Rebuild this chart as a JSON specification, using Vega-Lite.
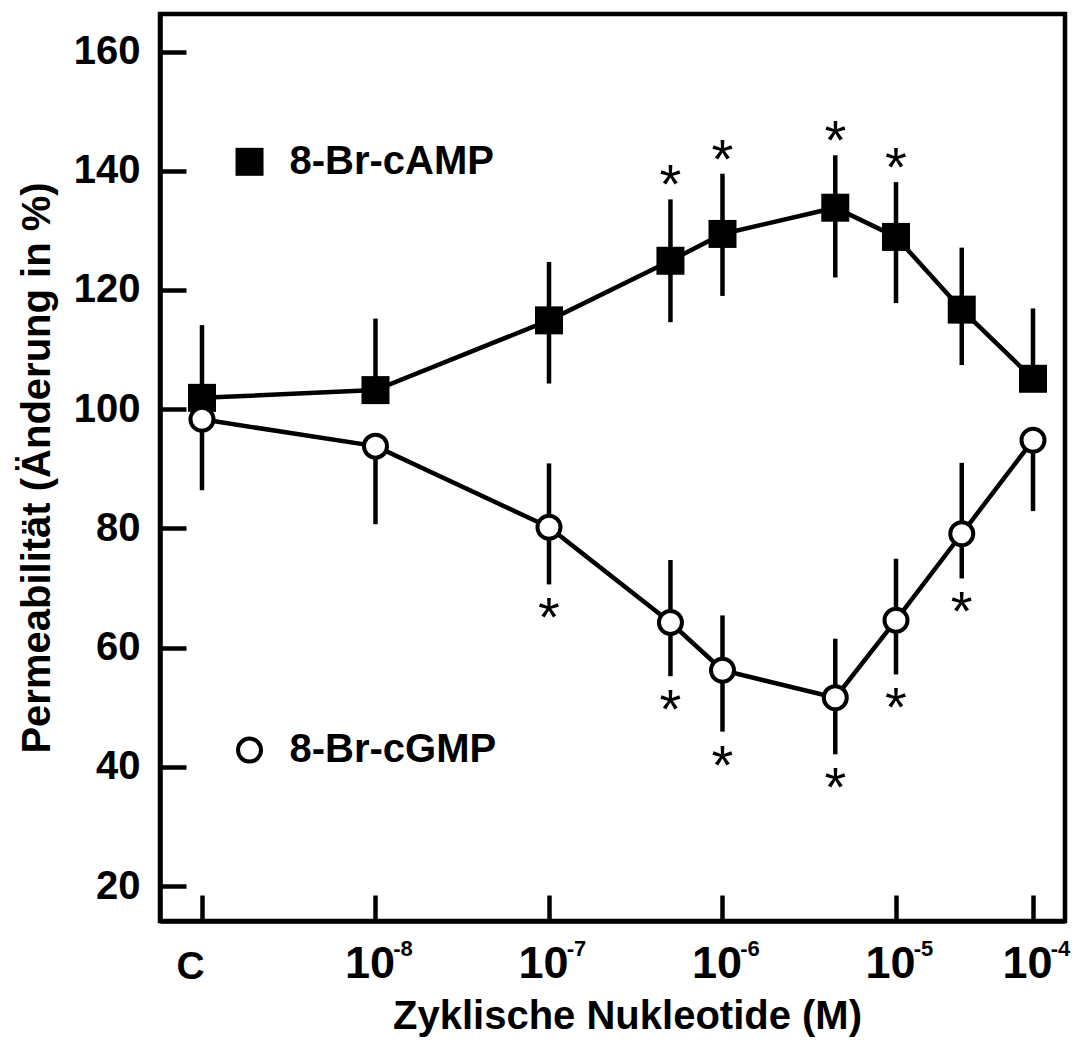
{
  "$schema": "https://vega.github.io/schema/vega-lite/v6.json",
  "width": 905,
  "height": 907,
  "autosize": {"type": "none"},
  "padding": {"left": 160, "top": 14, "right": 11, "bottom": 127},
  "background": "white",
  "config": {
    "font": "Liberation Sans",
    "view": {"stroke": "black", "strokeWidth": 4.5},
    "axis": {"labelColor": "black", "titleColor": "black", "labelFont": "Liberation Sans", "titleFont": "Liberation Sans", "grid": false}
  },
  "datasets": {
    "pts": [
      {"series": "8-Br-cAMP", "logc": -9, "value": 101.9, "lo": 101.9, "hi": 114.1, "sig": false},
      {"series": "8-Br-cAMP", "logc": -8, "value": 103.2, "lo": 103.2, "hi": 115.2, "sig": false},
      {"series": "8-Br-cAMP", "logc": -7, "value": 114.9, "lo": 104.3, "hi": 124.7, "sig": false},
      {"series": "8-Br-cAMP", "logc": -6.3, "value": 124.9, "lo": 114.6, "hi": 135.2, "sig": true},
      {"series": "8-Br-cAMP", "logc": -6, "value": 129.4, "lo": 119.0, "hi": 139.5, "sig": true},
      {"series": "8-Br-cAMP", "logc": -5.35, "value": 133.8, "lo": 122.1, "hi": 142.6, "sig": true},
      {"series": "8-Br-cAMP", "logc": -5, "value": 128.9, "lo": 117.8, "hi": 138.1, "sig": true},
      {"series": "8-Br-cAMP", "logc": -4.52, "value": 116.7, "lo": 107.4, "hi": 127.1, "sig": false},
      {"series": "8-Br-cAMP", "logc": -4, "value": 105.1, "lo": 105.1, "hi": 116.9, "sig": false},
      {"series": "8-Br-cGMP", "logc": -9, "value": 98.3, "lo": 86.4, "hi": 98.3, "sig": false},
      {"series": "8-Br-cGMP", "logc": -8, "value": 93.8, "lo": 80.7, "hi": 93.8, "sig": false},
      {"series": "8-Br-cGMP", "logc": -7, "value": 80.2, "lo": 70.6, "hi": 90.9, "sig": true},
      {"series": "8-Br-cGMP", "logc": -6.3, "value": 64.2, "lo": 55.2, "hi": 74.7, "sig": true},
      {"series": "8-Br-cGMP", "logc": -6, "value": 56.2, "lo": 45.9, "hi": 65.4, "sig": true},
      {"series": "8-Br-cGMP", "logc": -5.35, "value": 51.6, "lo": 42.1, "hi": 61.5, "sig": true},
      {"series": "8-Br-cGMP", "logc": -5, "value": 64.6, "lo": 55.5, "hi": 74.9, "sig": true},
      {"series": "8-Br-cGMP", "logc": -4.52, "value": 79.1, "lo": 71.6, "hi": 91.0, "sig": true},
      {"series": "8-Br-cGMP", "logc": -4, "value": 94.8, "lo": 82.9, "hi": 94.8, "sig": false}
    ],
    "legend": [
      {"series": "8-Br-cAMP", "logc": -8.726, "value": 141.5},
      {"series": "8-Br-cGMP", "logc": -8.726, "value": 42.8}
    ]
  },
  "resolve": {"axis": {"x": "independent"}},
  "layer": [
    {
      "data": {"name": "pts"},
      "mark": {"type": "rule", "strokeWidth": 4.5, "color": "black"},
      "encoding": {
        "x": {
          "field": "logc", "type": "quantitative",
          "scale": {"type": "linear", "domain": [-9.242, -5, -4, -3.766], "range": [0, 736, 873, 905], "nice": false, "zero": false},
          "axis": {
            "orient": "bottom",
            "title": "Zyklische Nukleotide (M)",
            "values": [-9, -8, -7, -6, -5, -4],
            "labelExpr": "datum.value == -9 ? 'C' : '10'",
            "tickSize": -26, "tickWidth": 4.5, "tickColor": "black",
            "domainWidth": 4.5, "domainColor": "black",
            "labelFontSize": {"condition": {"test": "datum.value == -9", "value": 39}, "value": 45},
            "labelPadding": {"condition": {"test": "datum.value == -9", "value": 52}, "value": 46},
            "labelOffset": {"condition": {"test": "datum.value == -9", "value": -12}, "value": -6},
            "labelFontWeight": "bold",
            "labelFlush": false, "labelOverlap": false, "labelBound": false,
            "titleFontSize": 40, "titleFontWeight": "bold", "titlePadding": 10, "titleX": 467
          }
        },
        "y": {
          "field": "lo", "type": "quantitative",
          "scale": {"domain": [14.13, 166.3], "nice": false, "zero": false},
          "axis": {
            "orient": "left",
            "title": "Permeabilität (Änderung in %)",
            "values": [20, 40, 60, 80, 100, 120, 140, 160],
            "tickSize": -26, "tickWidth": 4.5, "tickColor": "black",
            "domainWidth": 4.5, "domainColor": "black",
            "labelFontSize": 40, "labelFontWeight": "bold", "labelPadding": 46,
            "labelFlush": false, "labelOverlap": false, "labelBound": false,
            "titleFontSize": 40, "titleFontWeight": "bold", "titlePadding": 16
          }
        },
        "y2": {"field": "hi"}
      }
    },
    {
      "data": {"name": "pts"},
      "mark": {"type": "line", "strokeWidth": 4.5, "color": "black"},
      "encoding": {
        "x": {
          "field": "logc", "type": "quantitative",
          "axis": {
            "orient": "bottom", "title": null,
            "values": [-8, -7, -6, -5, -4],
            "labelExpr": "'-' + (-datum.value)",
            "ticks": false, "domain": false,
            "labelFontSize": 22, "labelFontWeight": "bold",
            "labelPadding": 17, "labelOffset": 27,
            "labelFlush": false, "labelOverlap": false, "labelBound": false
          }
        },
        "y": {"field": "value", "type": "quantitative"},
        "detail": {"field": "series"}
      }
    },
    {
      "data": {"name": "pts"},
      "transform": [{"filter": "datum.series == '8-Br-cAMP'"}],
      "mark": {"type": "point", "shape": "square", "filled": true, "color": "black", "size": 784, "opacity": 1},
      "encoding": {
        "x": {"field": "logc", "type": "quantitative", "axis": null},
        "y": {"field": "value", "type": "quantitative"}
      }
    },
    {
      "data": {"name": "pts"},
      "transform": [{"filter": "datum.series == '8-Br-cGMP'"}],
      "mark": {"type": "point", "shape": "circle", "filled": true, "fill": "white", "stroke": "black", "strokeWidth": 4, "size": 529, "opacity": 1},
      "encoding": {
        "x": {"field": "logc", "type": "quantitative", "axis": null},
        "y": {"field": "value", "type": "quantitative"}
      }
    },
    {
      "data": {"name": "pts"},
      "transform": [{"filter": "datum.series == '8-Br-cAMP' && datum.sig"}],
      "mark": {"type": "text", "text": "*", "fontSize": 56, "align": "center", "baseline": "alphabetic", "dy": 4, "color": "black"},
      "encoding": {
        "x": {"field": "logc", "type": "quantitative", "axis": null},
        "y": {"field": "hi", "type": "quantitative"}
      }
    },
    {
      "data": {"name": "pts"},
      "transform": [{"filter": "datum.series == '8-Br-cGMP' && datum.sig"}],
      "mark": {"type": "text", "text": "*", "fontSize": 56, "align": "center", "baseline": "alphabetic", "dy": 52, "color": "black"},
      "encoding": {
        "x": {"field": "logc", "type": "quantitative", "axis": null},
        "y": {"field": "lo", "type": "quantitative"}
      }
    },
    {
      "data": {"name": "legend"},
      "transform": [{"filter": "datum.series == '8-Br-cAMP'"}],
      "mark": {"type": "point", "shape": "square", "filled": true, "color": "black", "size": 784, "opacity": 1},
      "encoding": {
        "x": {"field": "logc", "type": "quantitative", "axis": null},
        "y": {"field": "value", "type": "quantitative"}
      }
    },
    {
      "data": {"name": "legend"},
      "transform": [{"filter": "datum.series == '8-Br-cGMP'"}],
      "mark": {"type": "point", "shape": "circle", "filled": true, "fill": "white", "stroke": "black", "strokeWidth": 4, "size": 529, "opacity": 1},
      "encoding": {
        "x": {"field": "logc", "type": "quantitative", "axis": null},
        "y": {"field": "value", "type": "quantitative"}
      }
    },
    {
      "data": {"name": "legend"},
      "mark": {"type": "text", "align": "left", "baseline": "middle", "dx": 40, "fontSize": 40, "fontWeight": "bold", "color": "black"},
      "encoding": {
        "x": {"field": "logc", "type": "quantitative", "axis": null},
        "y": {"field": "value", "type": "quantitative"},
        "text": {"field": "series"}
      }
    }
  ]
}
